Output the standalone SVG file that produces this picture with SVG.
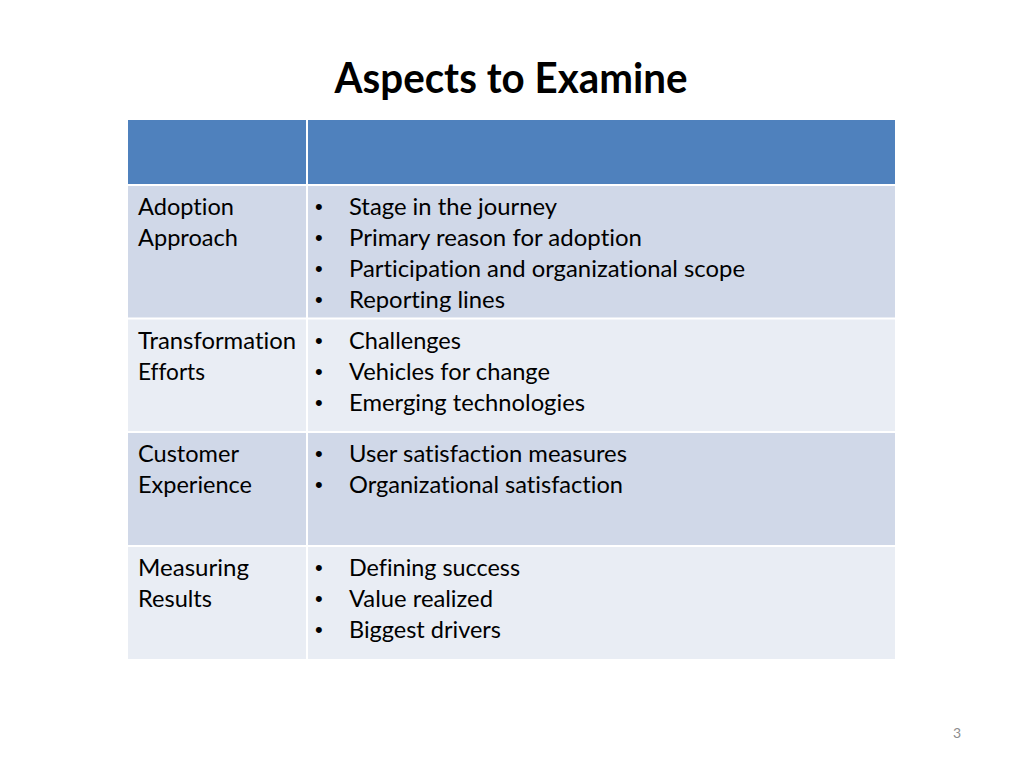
<svg xmlns="http://www.w3.org/2000/svg" width="1024" height="768" viewBox="0 0 1024 768">
<style>
text{font-variant-ligatures:none;font-feature-settings:"liga" 0,"clig" 0}
.t{font-family:Lato,"Open Sans","Liberation Sans",sans-serif;font-size:24px;fill:#000}
.b{font-family:"Liberation Sans",sans-serif;font-size:22px;fill:#000}
.h{fill:#4F81BD}
.d{fill:#D0D8E8}
.l{fill:#E9EDF4}
.sep{stroke:#FFFFFF;stroke-width:2}
</style>
<rect width="1024" height="768" fill="#FFFFFF"/>
<text x="511" y="93" text-anchor="middle" font-family="Lato,'Open Sans','Liberation Sans',sans-serif" font-weight="bold" font-size="42" textLength="353" lengthAdjust="spacingAndGlyphs">Aspects to Examine</text>
<g id="header"><rect class="h" x="128" y="120" width="767" height="65"/></g>
<g id="row1">
<rect class="d" x="128" y="185" width="767" height="133"/>
<text class="t" x="138" y="215" textLength="96" lengthAdjust="spacingAndGlyphs">Adoption</text>
<text class="t" x="138" y="246" textLength="100" lengthAdjust="spacingAndGlyphs">Approach</text>
<text class="b" x="315" y="214">•</text><text class="t" x="349" y="215" textLength="208" lengthAdjust="spacingAndGlyphs">Stage in the journey</text>
<text class="b" x="315" y="245">•</text><text class="t" x="349" y="246" textLength="293" lengthAdjust="spacingAndGlyphs">Primary reason for adoption</text>
<text class="b" x="315" y="276">•</text><text class="t" x="349" y="277" textLength="396" lengthAdjust="spacingAndGlyphs">Participation and organizational scope</text>
<text class="b" x="315" y="307">•</text><text class="t" x="349" y="308" textLength="156" lengthAdjust="spacingAndGlyphs">Reporting lines</text>
</g>
<g id="row2">
<rect class="l" x="128" y="318" width="767" height="114"/>
<text class="t" x="138" y="349" textLength="158" lengthAdjust="spacingAndGlyphs">Transformation</text>
<text class="t" x="138" y="380" textLength="67" lengthAdjust="spacingAndGlyphs">Efforts</text>
<text class="b" x="315" y="348">•</text><text class="t" x="349" y="349" textLength="112" lengthAdjust="spacingAndGlyphs">Challenges</text>
<text class="b" x="315" y="379">•</text><text class="t" x="349" y="380" textLength="201" lengthAdjust="spacingAndGlyphs">Vehicles for change</text>
<text class="b" x="315" y="410">•</text><text class="t" x="349" y="411" textLength="236" lengthAdjust="spacingAndGlyphs">Emerging technologies</text>
</g>
<g id="row3">
<rect class="d" x="128" y="432" width="767" height="114"/>
<text class="t" x="138" y="462" textLength="101" lengthAdjust="spacingAndGlyphs">Customer</text>
<text class="t" x="138" y="493" textLength="114" lengthAdjust="spacingAndGlyphs">Experience</text>
<text class="b" x="315" y="461">•</text><text class="t" x="349" y="462" textLength="278" lengthAdjust="spacingAndGlyphs">User satisfaction measures</text>
<text class="b" x="315" y="492">•</text><text class="t" x="349" y="493" textLength="274" lengthAdjust="spacingAndGlyphs">Organizational satisfaction</text>
</g>
<g id="row4">
<rect class="l" x="128" y="546" width="767" height="113"/>
<text class="t" x="138" y="576" textLength="111" lengthAdjust="spacingAndGlyphs">Measuring</text>
<text class="t" x="138" y="607" textLength="74" lengthAdjust="spacingAndGlyphs">Results</text>
<text class="b" x="315" y="575">•</text><text class="t" x="349" y="576" textLength="171" lengthAdjust="spacingAndGlyphs">Defining success</text>
<text class="b" x="315" y="606">•</text><text class="t" x="349" y="607" textLength="144" lengthAdjust="spacingAndGlyphs">Value realized</text>
<text class="b" x="315" y="637">•</text><text class="t" x="349" y="638" textLength="152" lengthAdjust="spacingAndGlyphs">Biggest drivers</text>
</g>
<g id="grid">
<line class="sep" x1="307" y1="120" x2="307" y2="659"/>
<line class="sep" x1="128" y1="185" x2="895" y2="185"/>
<line class="sep" x1="128" y1="318.5" x2="895" y2="318.5"/>
<line class="sep" x1="128" y1="432" x2="895" y2="432"/>
<line class="sep" x1="128" y1="546" x2="895" y2="546"/>
</g>
<text x="957" y="738" text-anchor="middle" font-family="Lato,'Open Sans','Liberation Sans',sans-serif" font-size="14" fill="#8C8C8C">3</text>
</svg>
